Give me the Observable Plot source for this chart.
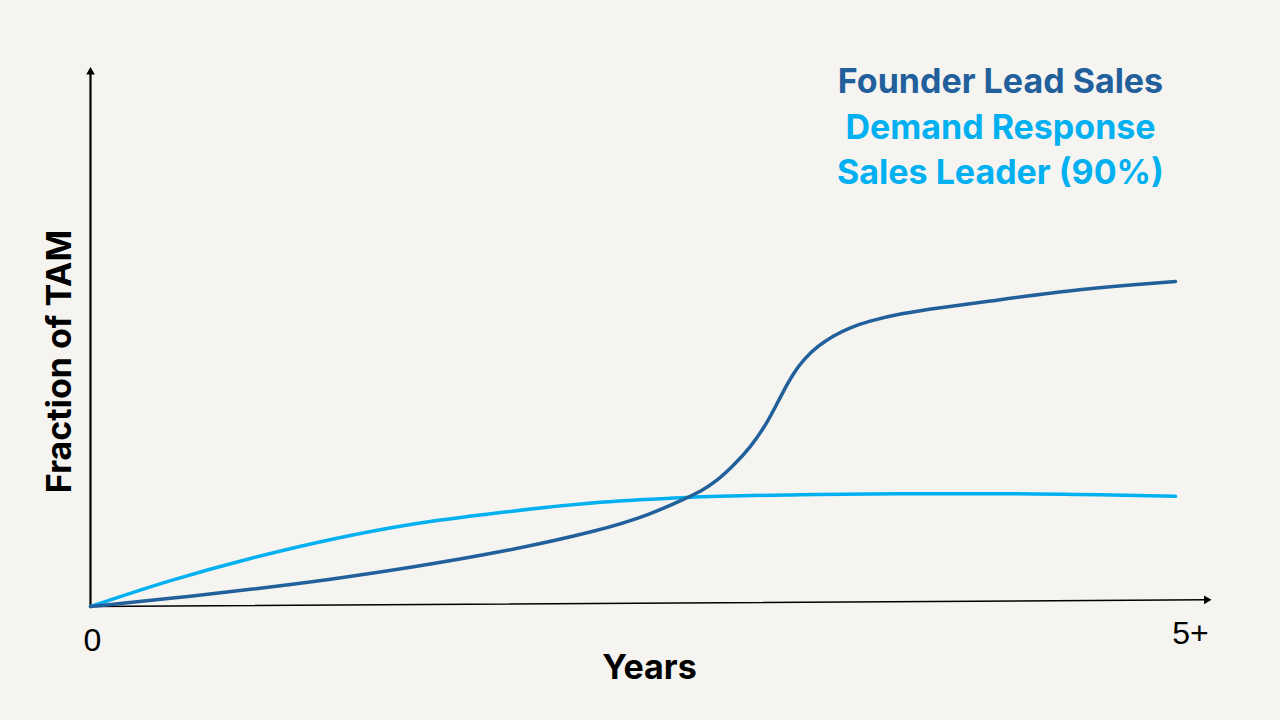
<!DOCTYPE html>
<html>
<head>
<meta charset="utf-8">
<script src="https://cdn.jsdelivr.net/npm/d3@7"></script>
<script src="https://cdn.jsdelivr.net/npm/@observablehq/plot@0.6"></script>
<style>
  html, body { margin: 0; padding: 0; background: #f5f4f1; }
  #chart { width: 1280px; height: 720px; }
</style>
</head>
<body>
<div id="chart"></div>
<script>
// Years (0 .. 5+) and fraction of TAM
const founderYears = [0, 0.369, 0.737, 1.106, 1.475, 1.889, 2.35, 2.581, 2.751, 2.811, 2.889, 2.963, 3.041, 3.12, 3.18, 3.24, 3.295, 3.35, 3.424, 3.502, 3.581, 3.733, 3.917, 4.101, 4.562, 5];
const founderValues = [0, 0.0148, 0.0315, 0.050, 0.0722, 0.100, 0.1407, 0.1704, 0.2019, 0.2130, 0.2333, 0.2611, 0.2944, 0.3407, 0.3889, 0.4333, 0.4611, 0.4815, 0.5019, 0.5167, 0.5278, 0.5426, 0.5537, 0.5630, 0.5889, 0.6019];

const demandYears = [0, 0.369, 0.737, 1.475, 1.889, 2.35, 2.751, 3.272, 3.733, 4.194, 4.654, 5];
const demandValues = [0, 0.048, 0.089, 0.152, 0.174, 0.193, 0.202, 0.207, 0.209, 0.209, 0.207, 0.204];

const legendLabels = ["Founder Lead Sales", "Demand Response", "Sales Leader (90%)"];
const legendColors = ["#22609c", "#00b0f0", "#00b0f0"];

const xTickValues = [0, 5];
const xTickLabels = ["0", "5+"];
const xTitle = "Years";
const yTitle = "Fraction of TAM";

// axis arrow geometry (data units)
const xAxisLine = [{x: 0, y: 0}, {x: 5.14, y: 0.0124}];
const yAxisLine = [{x: 0, y: 0}, {x: 0, y: 0.985}];
const arrowHeads = [{x: 5.143, y: 0.0124, rot: 89.6}, {x: 0, y: 0.99, rot: 0}];

const founder = founderYears.map((x, i) => ({x, y: founderValues[i]}));
const demand = demandYears.map((x, i) => ({x, y: demandValues[i]}));

const font = "'Liberation Sans', Arial, sans-serif";
const boldFont = "Inter, 'Liberation Sans', Arial, sans-serif";

const marks = [
  Plot.line(yAxisLine, {x: "x", y: "y", stroke: "#000", strokeWidth: 2.2}),
  Plot.line(xAxisLine, {x: "x", y: "y", stroke: "#000", strokeWidth: 1.6}),
  Plot.dot(arrowHeads, {x: "x", y: "y", symbol: "triangle", r: 3.2, fill: "#000", stroke: "none", rotate: "rot"}),
  Plot.line(demand, {x: "x", y: "y", stroke: legendColors[1], strokeWidth: 3.5, curve: "monotone-x"}),
  Plot.line(founder, {x: "x", y: "y", stroke: legendColors[0], strokeWidth: 3.5, curve: "basis"}),
  Plot.text([xTickLabels[0]], {x: xTickValues[0], y: 0, text: d => d, dx: 2, dy: 34, fontSize: 32, fill: "#000"}),
  Plot.text([xTickLabels[1]], {x: xTickValues[1], y: 0, text: d => d, dx: 15, dy: 27, fontSize: 32, fill: "#000"}),
  Plot.text([xTitle], {frameAnchor: "bottom", text: d => d, dx: 16.5, dy: 62, lineAnchor: "middle", fontSize: 34, fontWeight: "bold", fontFamily: boldFont, fill: "#000"}),
  Plot.text([yTitle], {frameAnchor: "left", text: d => d, dx: -30, dy: 25, rotate: -90, textAnchor: "middle", lineAnchor: "middle", fontSize: 34, fontWeight: "bold", fontFamily: boldFont, fill: "#000"}),
  ...legendLabels.map((t, i) => Plot.text([t], {frameAnchor: "top-left", text: d => d, dx: 910, dy: 15.5 + i * 45.7, textAnchor: "middle", lineAnchor: "middle", fontSize: 34, fontWeight: "bold", fontFamily: boldFont, fill: legendColors[i]}))
];

const chart = Plot.plot({
  width: 1280,
  height: 720,
  marginLeft: 90,
  marginRight: 105,
  marginTop: 66,
  marginBottom: 114,
  x: {domain: [0, 5], axis: null},
  y: {domain: [0, 1], axis: null},
  style: {background: "#f5f4f1", fontFamily: font, overflow: "visible"},
  marks
});
document.getElementById("chart").appendChild(chart);
</script>
</body>
</html>
